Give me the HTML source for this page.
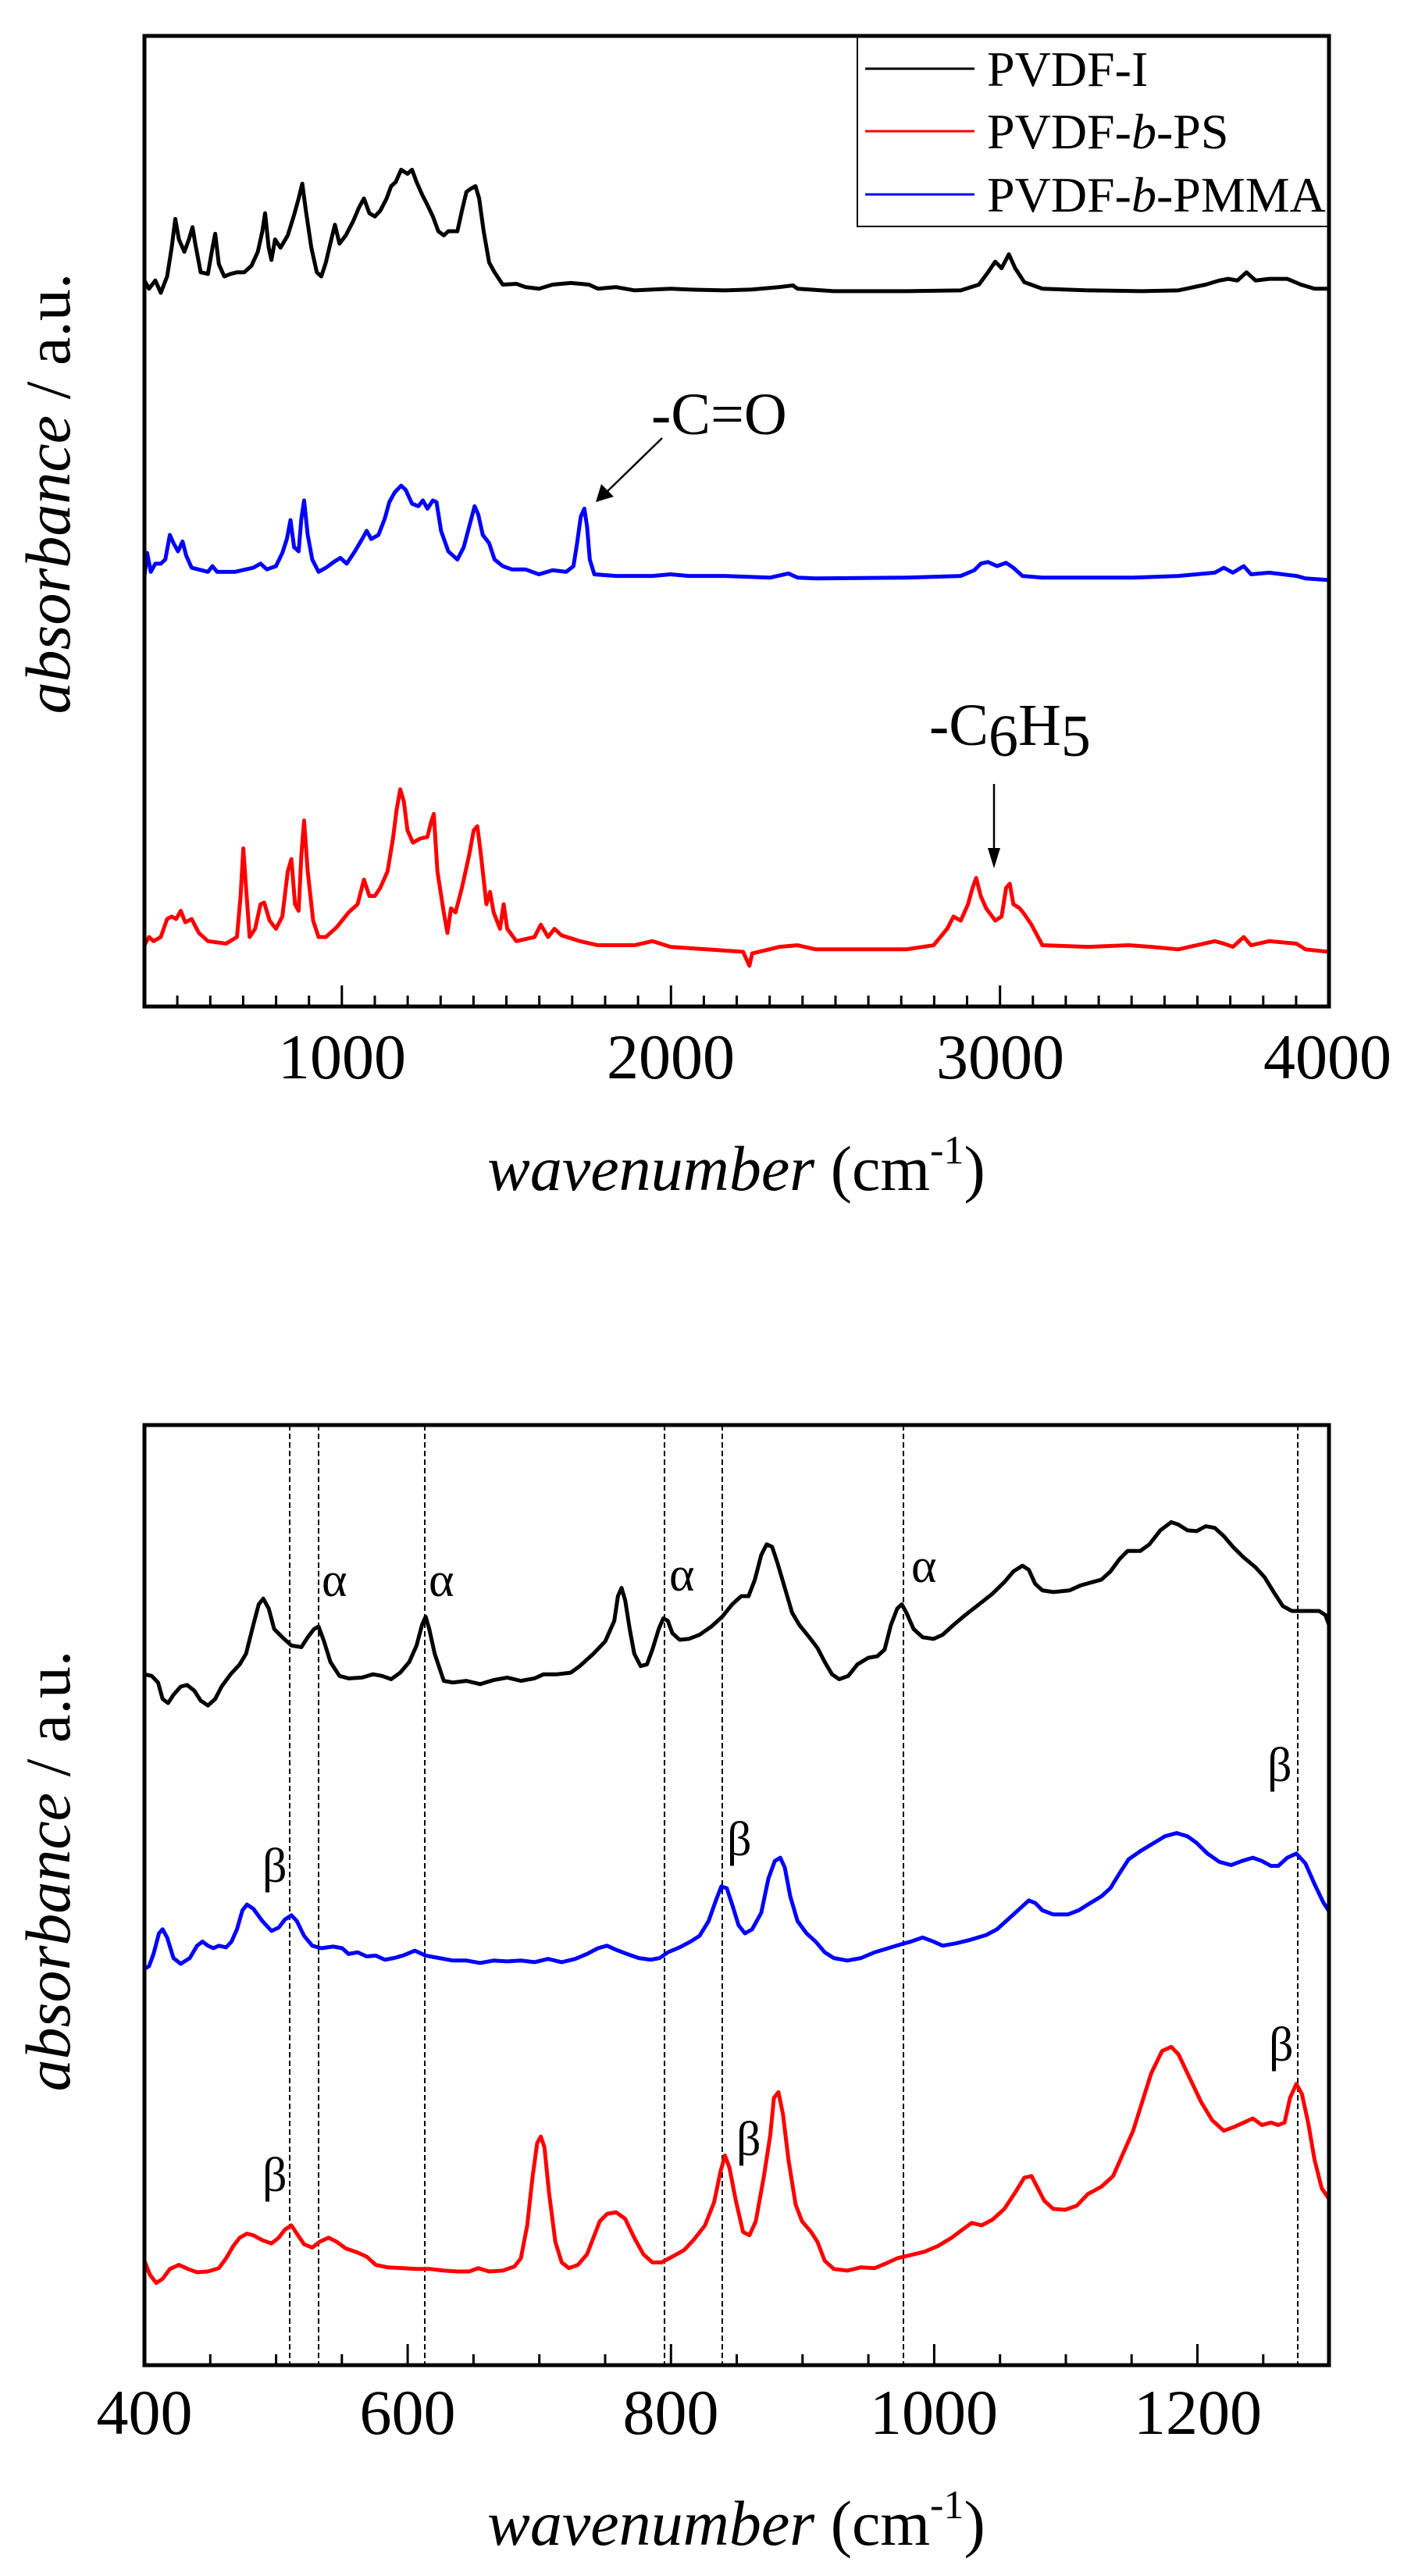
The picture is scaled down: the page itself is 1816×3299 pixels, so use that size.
<!DOCTYPE html>
<html><head><meta charset="utf-8"><style>
html,body{margin:0;padding:0;background:#fff;}
svg{display:block;}
text{font-family:"Liberation Serif","Times New Roman",serif;fill:#000;}
</style></head><body>
<svg width="1816" height="3299" viewBox="0 0 1816 3299" xmlns="http://www.w3.org/2000/svg">
<rect width="1816" height="3299" fill="#fff"/>

<!-- ================= TOP PLOT ================= -->
<g fill="none" stroke-linejoin="round" stroke-width="5" transform="matrix(1.1616,0,0,1.051,-0.86,1.9)">
<polyline vector-effect="non-scaling-stroke" stroke="#000" points="160,340 165,350 172,340 178,355 185,335 190,300 194,265 198,290 204,305 209,290 213,275 216,295 222,330 230,332 235,300 238,283 242,320 248,335 255,332 262,330 270,330 278,322 285,305 290,280 293,258 297,300 300,315 304,290 310,300 318,285 325,260 330,240 334,222 338,255 344,300 350,330 355,335 360,318 366,290 370,272 375,295 382,285 390,268 397,250 402,240 408,258 414,262 420,255 427,240 432,225 437,220 443,205 450,210 455,205 460,220 466,235 472,248 478,262 484,280 490,285 495,280 505,280 510,255 515,232 520,228 525,225 529,240 534,280 540,318 546,330 555,345 570,344 580,348 595,350 610,345 630,343 650,345 660,350 680,348 700,352 740,350 760,351 800,352 830,351 860,348 875,346 880,350 920,353 1000,353 1060,352 1080,345 1090,330 1098,317 1105,325 1113,308 1120,325 1130,342 1150,350 1200,352 1260,353 1300,352 1330,345 1345,340 1355,338 1365,340 1375,330 1385,340 1400,338 1420,338 1435,345 1450,350 1466,350"/>
<polyline vector-effect="non-scaling-stroke" stroke="#0000ff" points="160,700 163,672 167,695 172,685 178,685 183,680 188,650 192,660 197,670 202,658 206,675 212,690 230,695 235,688 240,695 260,695 280,690 288,685 295,692 305,688 312,672 317,655 321,632 325,665 330,670 333,630 336,608 340,650 345,680 352,695 360,690 370,682 376,678 383,685 392,670 400,655 405,645 410,655 418,650 425,630 430,610 436,598 443,590 448,595 455,612 462,615 467,608 472,618 478,608 482,610 487,645 495,670 505,680 512,665 518,640 524,615 528,625 533,650 540,660 546,680 555,688 565,692 580,692 595,698 610,693 625,695 633,688 637,660 641,628 645,618 648,640 651,680 656,698 680,700 720,700 740,698 760,700 800,700 850,702 870,697 880,702 900,703 1000,702 1060,700 1075,693 1082,685 1090,683 1100,688 1110,684 1118,690 1128,700 1150,702 1250,702 1300,700 1340,696 1350,690 1360,696 1372,688 1380,698 1400,696 1430,700 1440,703 1466,705"/>
<polyline vector-effect="non-scaling-stroke" stroke="#ff0000" points="160,1150 165,1140 170,1145 178,1140 185,1118 190,1115 195,1118 200,1108 205,1122 212,1118 220,1135 230,1145 250,1148 262,1140 266,1090 269,1032 272,1080 276,1140 282,1130 288,1100 292,1098 298,1120 305,1130 312,1115 318,1060 322,1045 326,1100 330,1108 333,1040 336,998 340,1060 346,1120 352,1140 360,1140 372,1128 385,1110 395,1100 402,1070 408,1090 414,1090 420,1080 428,1060 434,1020 438,985 442,960 446,975 450,1010 456,1025 464,1020 472,1018 476,1000 479,990 483,1060 490,1110 494,1135 498,1105 503,1110 510,1080 518,1040 523,1010 527,1005 531,1040 537,1100 541,1085 545,1110 552,1130 556,1100 560,1130 570,1145 590,1140 597,1125 605,1140 612,1130 620,1138 640,1145 660,1150 680,1150 700,1150 720,1145 740,1152 780,1155 820,1158 827,1175 830,1160 860,1152 880,1150 900,1155 950,1155 1000,1155 1030,1150 1045,1130 1052,1115 1060,1120 1068,1100 1073,1080 1077,1068 1082,1090 1088,1105 1098,1120 1105,1115 1110,1080 1114,1075 1118,1100 1125,1105 1130,1112 1138,1125 1150,1150 1200,1152 1245,1150 1270,1152 1300,1155 1320,1150 1340,1145 1350,1148 1360,1152 1372,1140 1380,1150 1400,1145 1430,1148 1440,1155 1466,1158"/>
</g>

<rect x="185" y="46" width="1517" height="1243" fill="none" stroke="#000" stroke-width="5"/>
<g stroke="#000" stroke-width="3">
<path d="M227.1,1289V1275 M269.3,1289V1275 M311.4,1289V1275 M353.6,1289V1275 M395.7,1289V1275 M437.8,1289V1262 M480,1289V1275 M522.1,1289V1275 M564.3,1289V1275 M606.4,1289V1275 M648.5,1289V1275 M690.7,1289V1275 M732.8,1289V1275 M775,1289V1275 M817.1,1289V1275 M859.3,1289V1262 M901.4,1289V1275 M943.5,1289V1275 M985.7,1289V1275 M1027.8,1289V1275 M1070,1289V1275 M1112.1,1289V1275 M1154.2,1289V1275 M1196.4,1289V1275 M1238.5,1289V1275 M1280.7,1289V1262 M1322.8,1289V1275 M1364.9,1289V1275 M1407.1,1289V1275 M1449.2,1289V1275 M1491.4,1289V1275 M1533.5,1289V1275 M1575.6,1289V1275 M1617.8,1289V1275 M1659.9,1289V1275"/>
</g>
<g font-size="82" text-anchor="middle">
<text x="438" y="1381">1000</text>
<text x="859" y="1381">2000</text>
<text x="1281" y="1381">3000</text>
<text x="1700" y="1381">4000</text>
</g>
<text x="943" y="1524" font-size="82" text-anchor="middle"><tspan font-style="italic">wavenumber</tspan> (cm<tspan font-size="52" dy="-34">-1</tspan><tspan dy="34">)</tspan></text>
<text transform="translate(89,632) rotate(-90)" font-size="82" text-anchor="middle"><tspan font-style="italic">absorbance</tspan> / a.u.</text>

<rect x="1098" y="46" width="604" height="244" fill="#fff" stroke="#000" stroke-width="2"/>
<g stroke-width="3">
<line x1="1108" y1="88" x2="1248" y2="88" stroke="#000"/>
<line x1="1108" y1="168" x2="1248" y2="168" stroke="#ff0000"/>
<line x1="1108" y1="249" x2="1248" y2="249" stroke="#0000ff"/>
</g>
<rect x="185" y="46" width="1517" height="1243" fill="none" stroke="#000" stroke-width="5"/>
<g font-size="64">
<text x="1264" y="110">PVDF-I</text>
<text x="1264" y="190">PVDF-<tspan font-style="italic">b</tspan>-PS</text>
<text x="1264" y="271">PVDF-<tspan font-style="italic">b</tspan>-PMMA</text>
</g>

<text x="834" y="556" font-size="76">-C=O</text>
<line x1="848" y1="561" x2="775" y2="632" stroke="#000" stroke-width="2.5"/>
<polygon points="763,643 770,620 786,636" fill="#000"/>
<text x="1190" y="954" font-size="76">-C<tspan font-size="76" dy="14">6</tspan><tspan dy="-14">H</tspan><tspan dy="14">5</tspan></text>
<line x1="1273" y1="1004" x2="1273" y2="1090" stroke="#000" stroke-width="2.5"/>
<polygon points="1273,1112 1265,1086 1281,1086" fill="#000"/>

<!-- ================= BOTTOM PLOT ================= -->
<g stroke="#000" stroke-width="2" stroke-dasharray="7,4">
<line x1="371" y1="1825" x2="371" y2="3029"/>
<line x1="408" y1="1825" x2="408" y2="3029"/>
<line x1="544" y1="1825" x2="544" y2="3029"/>
<line x1="851" y1="1825" x2="851" y2="3029"/>
<line x1="925" y1="1825" x2="925" y2="3029"/>
<line x1="1157" y1="1825" x2="1157" y2="3029"/>
<line x1="1662" y1="1825" x2="1662" y2="3029"/>
</g>
<g fill="none" stroke-linejoin="round" stroke-width="5" transform="matrix(1.1616,0,0,1.0534,-0.86,1649.1)">
<polyline vector-effect="non-scaling-stroke" stroke="#000" points="160,470 168,472 175,480 180,500 186,505 192,495 200,485 207,483 215,490 222,502 230,508 238,500 245,485 255,470 265,458 272,445 280,410 286,385 291,378 297,390 303,415 312,425 322,435 333,437 340,425 347,415 352,412 358,430 365,455 375,472 385,475 400,474 412,470 422,472 432,476 442,468 452,455 460,435 466,410 470,400 474,415 480,445 490,478 500,480 515,478 530,482 545,477 560,474 575,478 590,475 600,470 615,470 630,468 640,460 655,445 668,430 678,405 682,375 686,365 690,380 695,415 700,445 707,460 714,458 720,440 727,415 732,402 737,405 742,420 750,428 760,427 772,422 785,412 797,400 808,385 818,375 826,375 833,355 840,325 846,312 852,315 858,335 866,365 874,395 882,410 893,425 902,438 910,455 918,470 926,476 936,472 946,458 958,450 968,448 976,440 983,410 990,390 995,385 1000,395 1008,415 1018,425 1030,427 1040,422 1052,410 1065,398 1080,385 1095,372 1108,358 1118,345 1128,338 1135,343 1142,360 1150,368 1162,370 1180,368 1192,362 1205,358 1215,355 1225,345 1235,330 1244,320 1258,320 1268,312 1280,295 1292,285 1300,288 1310,295 1320,296 1330,290 1340,292 1350,302 1360,315 1372,328 1385,340 1395,352 1405,370 1415,387 1425,393 1440,393 1455,393 1462,398 1466,410"/>
<polyline vector-effect="non-scaling-stroke" stroke="#0000ff" points="160,828 165,825 170,810 176,785 180,780 185,790 192,815 200,822 210,815 218,800 224,795 230,800 236,803 242,800 250,802 256,795 262,780 268,757 273,750 280,755 290,770 300,782 308,778 315,768 322,763 328,770 336,788 345,800 355,803 368,801 378,803 385,810 395,808 405,813 415,812 425,817 435,815 445,812 458,806 470,812 485,815 500,818 515,818 530,821 545,818 560,819 575,818 590,820 605,816 620,820 635,816 648,810 660,803 670,800 680,805 692,810 705,815 718,817 728,815 737,808 750,802 762,795 772,788 782,770 790,745 796,728 802,730 808,750 815,775 822,785 830,780 840,760 848,718 855,697 861,693 866,705 872,740 880,770 890,785 900,795 910,808 920,815 935,818 950,815 965,808 980,803 995,798 1005,795 1018,790 1030,795 1040,800 1055,797 1070,793 1088,787 1100,780 1112,768 1125,755 1135,745 1142,748 1150,757 1162,762 1178,762 1190,757 1200,750 1215,740 1225,730 1235,712 1245,695 1258,685 1270,677 1285,667 1298,663 1310,667 1320,675 1332,688 1345,698 1358,702 1370,697 1382,693 1392,697 1402,703 1410,703 1420,693 1430,688 1440,700 1450,725 1460,748 1466,758"/>
<polyline vector-effect="non-scaling-stroke" stroke="#ff0000" points="160,1183 166,1200 173,1210 180,1205 188,1193 198,1188 208,1193 218,1197 230,1196 242,1192 250,1180 258,1165 265,1155 273,1150 280,1152 290,1158 300,1162 308,1155 315,1145 322,1140 328,1150 336,1163 345,1167 353,1160 363,1155 372,1160 382,1168 395,1173 405,1178 415,1188 428,1191 445,1192 460,1193 475,1193 490,1195 505,1196 518,1196 528,1192 540,1196 555,1195 568,1190 575,1180 582,1140 588,1080 593,1040 597,1032 601,1045 606,1100 613,1160 620,1185 628,1192 638,1188 648,1175 655,1155 662,1135 670,1126 680,1124 690,1132 700,1155 710,1175 720,1185 730,1185 742,1178 755,1170 766,1157 778,1140 788,1112 795,1075 800,1055 805,1070 812,1110 820,1148 827,1152 834,1135 843,1080 850,1030 854,985 859,978 864,1005 870,1060 878,1115 885,1135 895,1148 902,1160 910,1183 920,1193 935,1195 950,1191 965,1192 978,1186 990,1180 1005,1176 1020,1172 1035,1165 1050,1155 1062,1145 1072,1137 1083,1140 1095,1133 1108,1120 1120,1100 1130,1082 1138,1080 1145,1095 1152,1110 1162,1120 1175,1121 1188,1116 1200,1102 1215,1093 1228,1080 1240,1050 1250,1025 1260,990 1270,955 1282,928 1292,923 1300,932 1312,960 1325,990 1337,1012 1350,1025 1362,1020 1372,1015 1382,1010 1392,1018 1402,1015 1410,1018 1417,1015 1423,985 1430,968 1436,980 1443,1015 1450,1060 1458,1095 1466,1108"/>
</g>

<rect x="185" y="1825" width="1517" height="1204" fill="none" stroke="#000" stroke-width="5"/>
<g stroke="#000" stroke-width="3">
<path d="M269.3,3029V3015 M353.6,3029V3015 M437.8,3029V3015 M522.1,3029V3002 M606.4,3029V3015 M690.7,3029V3015 M775,3029V3015 M859.3,3029V3002 M943.5,3029V3015 M1027.8,3029V3015 M1112.1,3029V3015 M1196.4,3029V3002 M1280.7,3029V3015 M1365,3029V3015 M1449.2,3029V3015 M1533.5,3029V3002 M1617.8,3029V3015"/>
</g>
<g font-size="82" text-anchor="middle">
<text x="185" y="3117">400</text>
<text x="522" y="3117">600</text>
<text x="859" y="3117">800</text>
<text x="1196" y="3117">1000</text>
<text x="1534" y="3117">1200</text>
</g>
<text x="943" y="3259" font-size="82" text-anchor="middle"><tspan font-style="italic">wavenumber</tspan> (cm<tspan font-size="52" dy="-34">-1</tspan><tspan dy="34">)</tspan></text>
<text transform="translate(89,2396) rotate(-90)" font-size="82" text-anchor="middle"><tspan font-style="italic">absorbance</tspan> / a.u.</text>

<g font-size="62">
<text x="412" y="2044">α</text>
<text x="549" y="2044">α</text>
<text x="857" y="2037">α</text>
<text x="1167" y="2026">α</text>
<text x="336" y="2410">β</text>
<text x="931" y="2376">β</text>
<text x="1623" y="2281">β</text>
<text x="336" y="2806">β</text>
<text x="943" y="2760">β</text>
<text x="1625" y="2639">β</text>
</g>
</svg>
</body></html>
